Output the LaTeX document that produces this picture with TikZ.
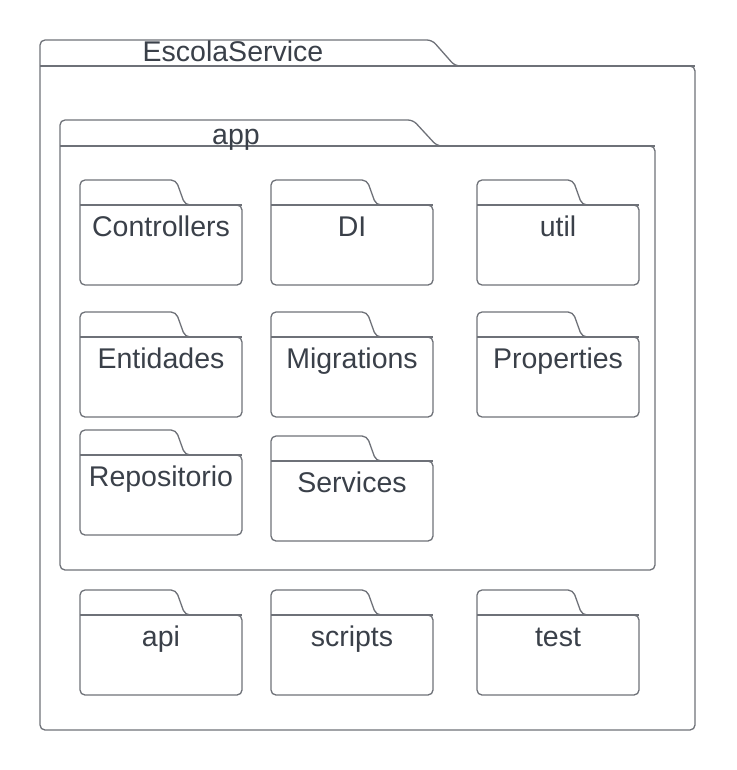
\documentclass[tikz,border=0pt]{standalone}
\usepackage{fontspec}
\setmainfont{Liberation Sans}
\definecolor{ln}{HTML}{6E7178}
\definecolor{txc}{HTML}{3A4049}
\tikzset{
  fold/.style={draw=ln, line width=1.3pt, rounded corners=5pt},
  sep/.style={draw=ln, line width=1.3pt},
  lbl/.style={text=txc, font=\fontsize{28.5}{32}\selectfont, anchor=base, inner sep=0pt}
}
% x0, y tab top, y body top, x1, y bottom, tab width, slope width
\newcommand{\fldr}[7]{%
  \draw[fold] (#1,#5) -- (#1,#2) -- ({#1+#6},#2) -- ({#1+#6+#7},#3) -- (#4,#3) -- (#4,#5) -- cycle;
  \draw[sep] (#1,#3) -- (#4,#3);}
\begin{document}
\begin{tikzpicture}[x=1pt,y=-1pt]
\useasboundingbox (0,0) rectangle (736,770);
% outer package
\fldr{40}{40}{66}{695}{730}{392}{23}
\node[lbl] (escola) at (233,62) {EscolaService};
% app package
\fldr{60}{120}{146}{655}{570}{353}{24}
\node[lbl] (app) at (236,145) {app};
% row 1
\fldr{80}{180}{205}{242}{285}{96}{9}
\node[lbl] (controllers) at (161,236) {Controllers};
\fldr{271}{180}{205}{433}{285}{96}{9}
\node[lbl] (di) at (352,236) {DI};
\fldr{477}{180}{205}{639}{285}{96}{9}
\node[lbl] (util) at (558,236) {util};
% row 2
\fldr{80}{312}{337}{242}{417}{96}{9}
\node[lbl] (entidades) at (161,368) {Entidades};
\fldr{271}{312}{337}{433}{417}{96}{9}
\node[lbl] (migrations) at (352,368) {Migrations};
\fldr{477}{312}{337}{639}{417}{96}{9}
\node[lbl] (properties) at (558,368) {Properties};
% row 3
\fldr{80}{430}{455}{242}{535}{96}{9}
\node[lbl] (repositorio) at (161,486) {Repositorio};
\fldr{271}{436}{461}{433}{541}{96}{9}
\node[lbl] (services) at (352,492) {Services};
% bottom row
\fldr{80}{590}{615}{242}{695}{96}{9}
\node[lbl] (api) at (161,646) {api};
\fldr{271}{590}{615}{433}{695}{96}{9}
\node[lbl] (scripts) at (352,646) {scripts};
\fldr{477}{590}{615}{639}{695}{96}{9}
\node[lbl] (test) at (558,646) {test};
\end{tikzpicture}
\end{document}
